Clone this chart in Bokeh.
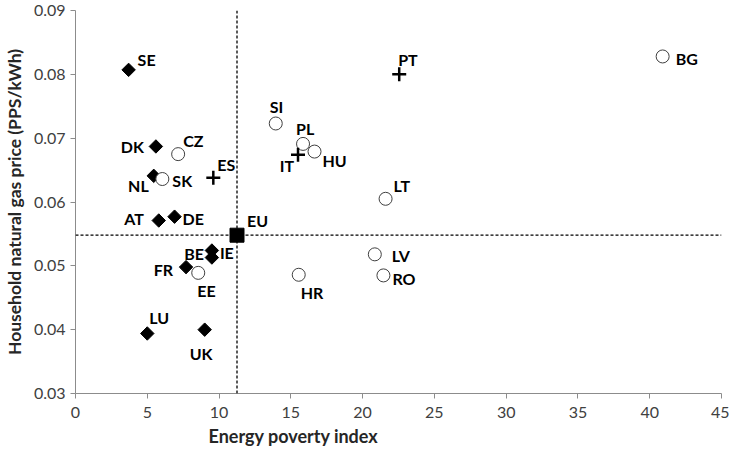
import math
from bokeh.plotting import figure
from bokeh.models import ColumnDataSource, Span, FixedTicker, NumeralTickFormatter, Range1d, Title
from bokeh.core.properties import value
from bokeh.embed import file_html
from bokeh.resources import INLINE

# ---- data ----
diamond_codes = ["SE", "DK", "NL", "AT", "DE", "BE", "IE", "FR", "LU", "UK"]
diamond_x = [3.7, 5.6, 5.45, 5.8, 6.9, 9.5, 9.5, 7.7, 5.0, 9.0]
diamond_y = [0.0807, 0.0687, 0.0641, 0.0571, 0.0577, 0.0524, 0.0513, 0.0498, 0.0394, 0.0400]

circle_codes = ["CZ", "SK", "EE", "SI", "PL", "HU", "LT", "BG", "LV", "RO", "HR"]
circle_x = [7.15, 6.05, 8.55, 13.95, 15.85, 16.65, 21.6, 40.9, 20.85, 21.45, 15.55]
circle_y = [0.0675, 0.0636, 0.0489, 0.0723, 0.0691, 0.0679, 0.0605, 0.0828, 0.0518, 0.0485, 0.0486]

cross_codes = ["ES", "IT", "PT"]
cross_x = [9.6, 15.5, 22.55]
cross_y = [0.0638, 0.0674, 0.0800]

eu_code = ["EU"]
eu_x = [11.25]
eu_y = [0.0548]

x_ticks = [0, 5, 10, 15, 20, 25, 30, 35, 40, 45]
y_ticks = [0.03, 0.04, 0.05, 0.06, 0.07, 0.08, 0.09]

x_title = "Energy poverty index"
y_title = "Household natural gas price (PPS/kWh)"

# ---- label placement (pixels, layout only) ----
label_layout = {
    "SE": (9, -10, "left"), "DK": (-12, 0, "right"), "CZ": (5, -14, "left"),
    "NL": (-5, 10, "right"), "SK": (10, 1, "left"), "ES": (4, -13, "left"),
    "AT": (-15, -2, "right"), "DE": (8, 2, "left"), "EU": (10, -15, "left"),
    "BE": (-8, 3, "right"), "IE": (8, -5, "left"), "FR": (-13, 2, "right"),
    "EE": (-1, 18, "left"), "LU": (2, -16, "left"), "UK": (-15, 24, "left"),
    "SI": (-6, -17, "left"), "PL": (-7, -15, "left"), "IT": (-4, 11, "right"),
    "HU": (8, 9, "left"), "PT": (-1, -15, "left"), "LT": (8, -13, "left"),
    "BG": (13, 2, "left"), "LV": (17, 1, "left"), "RO": (9, 3, "left"),
    "HR": (2, 18, "left"),
}

FONT = "Lato"

p = figure(width=729, height=452, output_backend="svg", toolbar_location=None,
           x_range=Range1d(0, 45), y_range=Range1d(0.03, 0.09),
           min_border_left=75, min_border_right=8, min_border_top=10, min_border_bottom=59)
p.outline_line_color = None
p.xgrid.visible = False
p.ygrid.visible = False
p.background_fill_color = "white"

for ax in (p.xaxis[0], p.yaxis[0]):
    ax.axis_line_color = "#8c8c8c"
    ax.major_tick_line_color = "#8c8c8c"
    ax.minor_tick_line_color = None
    ax.major_tick_in = 0
    ax.major_tick_out = 5
    ax.major_label_text_font = FONT
    ax.major_label_text_font_size = "16px"
    ax.major_label_text_color = "#404040"
    ax.axis_label_text_font = FONT
    ax.axis_label_text_font_size = "17.5px"
    ax.axis_label_text_font_style = "bold"
    ax.axis_label_text_color = "#262626"

p.xaxis.ticker = FixedTicker(ticks=x_ticks)
p.yaxis.ticker = FixedTicker(ticks=y_ticks)
p.yaxis.formatter = NumeralTickFormatter(format="0.00")
p.yaxis.axis_label = y_title
p.yaxis.axis_label_standoff = 6
p.xaxis.major_label_standoff = 8
p.yaxis.major_label_standoff = 5

p.add_layout(Title(text=x_title, align="left", offset=133, standoff=4,
                   text_font=FONT, text_font_size="18px", text_font_style="bold",
                   text_color="#262626"), "below")

# reference lines through the EU point
p.add_layout(Span(location=eu_x[0], dimension="height", line_color="black",
                  line_dash="3 2", line_width=1.3))
p.add_layout(Span(location=eu_y[0], dimension="width", line_color="black",
                  line_dash="3 2", line_width=1.3))

p.scatter(diamond_x, diamond_y, marker="square", angle=math.pi / 4, size=9.5,
          fill_color="black", line_color="black")
p.scatter(circle_x, circle_y, marker="circle", size=13, fill_color="white",
          line_color="#404040", line_width=1)
p.scatter(cross_x, cross_y, marker="cross", size=14, line_color="black", line_width=2.5)
p.scatter(eu_x, eu_y, marker="square", size=14, fill_color="black", line_color="black")

codes = diamond_codes + circle_codes + cross_codes + eu_code
xs = diamond_x + circle_x + cross_x + eu_x
ys = diamond_y + circle_y + cross_y + eu_y
src = ColumnDataSource(dict(
    x=xs, y=ys, t=codes,
    dx=[label_layout[c][0] for c in codes],
    dy=[label_layout[c][1] for c in codes],
    al=[label_layout[c][2] for c in codes],
))
p.text(x="x", y="y", text="t", x_offset="dx", y_offset="dy", text_align="al",
       text_baseline="middle", text_font=value(FONT), text_font_style="bold",
       text_font_size="16px", text_color="black", source=src)

open("out.html", "w").write(file_html(p, INLINE))
